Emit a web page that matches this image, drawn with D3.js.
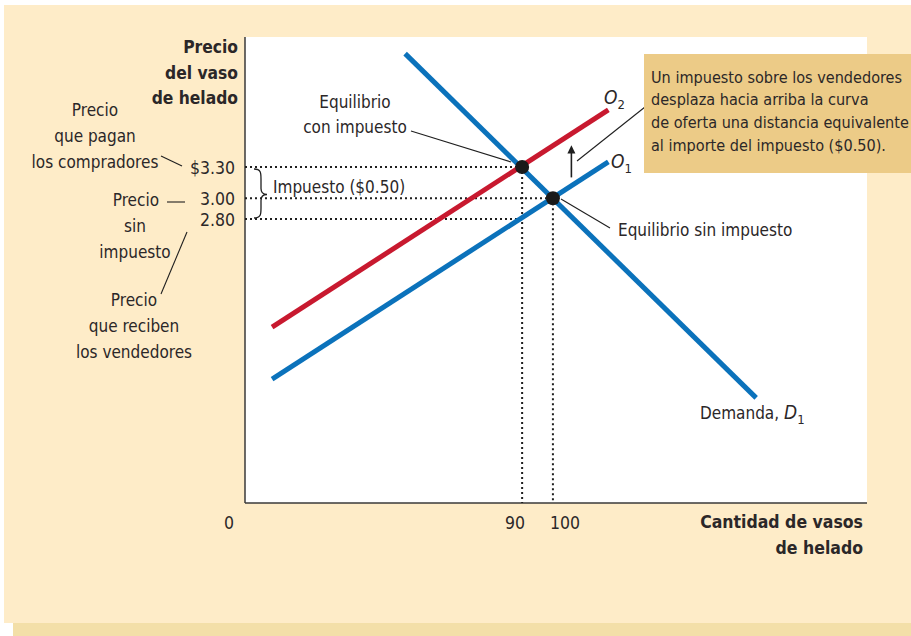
<!DOCTYPE html>
<html>
<head>
<meta charset="utf-8">
<script src="https://cdn.jsdelivr.net/npm/d3@7"></script>
<style>
  body { margin: 0; background: #ffffff; }
  svg text { font-family: "Liberation Sans Narrow", "DejaVu Sans Condensed", Roboto, sans-serif; fill: #2b2728; }
</style>
</head>
<body>
<div id="chart"></div>
<script>
// curve end points (quantity, price)
const demand = [{q: 52, p: 4.39}, {q: 166, p: 1.08}];
const supply1 = [{q: 8.8, p: 1.26}, {q: 118, p: 3.35}];
const supply2 = [{q: 8.8, p: 1.76}, {q: 118, p: 3.85}];
const equilibria = [{q: 90, p: 3.30}, {q: 100, p: 3.00}];

const priceTicks = [3.30, 3.00, 2.80];
const priceLabels = ["$3.30", "3.00", "2.80"];
const qtyTicks = [0, 90, 100];
const qtyLabels = ["0", "90", "100"];

const width = 911;
const height = 636;

const svg = d3.select("#chart")
  .append("svg")
    .attr("width", width)
    .attr("height", height);

// background panel
svg.append("rect").attr("x", 13).attr("y", 623).attr("width", 898).attr("height", 13).attr("fill", "#f3dfa8");
svg.append("rect").attr("x", 4).attr("y", 5).attr("width", 907).attr("height", 618).attr("fill", "#feecc8");

const x = d3.scaleLinear().domain([0, 202]).range([245, 867]);
const y = d3.scaleLinear().domain([2.8, 3.3]).range([219, 167]);
const plotTop = 37, plotBottom = 503;

// plot area
svg.append("rect")
  .attr("x", x(0)).attr("y", plotTop)
  .attr("width", x(202) - x(0)).attr("height", plotBottom - plotTop)
  .attr("fill", "#ffffff");

const axes = svg.append("g").attr("stroke", "#3a3a3a").attr("stroke-width", 1.5);
axes.append("line").attr("x1", x(0)).attr("x2", x(0)).attr("y1", plotTop).attr("y2", plotBottom);
axes.append("line").attr("x1", x(0)).attr("x2", x(202)).attr("y1", plotBottom).attr("y2", plotBottom);

// dotted guide lines
const dots = svg.append("g")
  .attr("stroke", "#1f1f1f")
  .attr("stroke-width", 2)
  .attr("stroke-dasharray", "2,3");
// horizontal: 3.30 and 2.80 to q=90, 3.00 to q=100
[[3.30, 90], [3.00, 100], [2.80, 90]].forEach(function(d) {
  dots.append("line")
    .attr("x1", x(0)).attr("x2", x(d[1]))
    .attr("y1", y(d[0])).attr("y2", y(d[0]));
});
equilibria.forEach(function(d) {
  dots.append("line")
    .attr("x1", x(d.q)).attr("x2", x(d.q))
    .attr("y1", y(d.p)).attr("y2", plotBottom);
});

// curves
const line = d3.line().x(d => x(d.q)).y(d => y(d.p));
svg.append("path").datum(supply2).attr("d", line)
  .attr("stroke", "#c8192f").attr("stroke-width", 5).attr("fill", "none");
svg.append("path").datum(supply1).attr("d", line)
  .attr("stroke", "#0b72bb").attr("stroke-width", 5).attr("fill", "none");
svg.append("path").datum(demand).attr("d", line)
  .attr("stroke", "#0b72bb").attr("stroke-width", 5).attr("fill", "none");

// equilibrium points
svg.selectAll(".eq")
  .data(equilibria)
  .enter()
  .append("circle")
    .attr("class", "eq")
    .attr("cx", d => x(d.q))
    .attr("cy", d => y(d.p))
    .attr("r", 7)
    .attr("fill", "#1a1a1a");

// tick labels
svg.selectAll(".ptick")
  .data(priceTicks)
  .enter()
  .append("text")
    .attr("class", "ptick")
    .attr("x", x(0) - 10)
    .attr("y", d => y(d) + 1)
    .attr("dy", "0.35em")
    .attr("text-anchor", "end")
    .attr("font-size", 17.5)
    .text((d, i) => priceLabels[i]);

const qOffset = [-16, -7, 12];
svg.selectAll(".qtick")
  .data(qtyTicks)
  .enter()
  .append("text")
    .attr("class", "qtick")
    .attr("x", (d, i) => x(d) + qOffset[i])
    .attr("y", 523)
    .attr("dy", "0.35em")
    .attr("text-anchor", "middle")
    .attr("font-size", 17.5)
    .text((d, i) => qtyLabels[i]);

// text helper
function label(lines, xPos, yStart, step, anchor, size, weight) {
  lines.forEach(function(t, i) {
    svg.append("text")
      .attr("x", xPos)
      .attr("y", yStart + i * step)
      .attr("dy", "0.35em")
      .attr("text-anchor", anchor)
      .attr("font-size", size)
      .attr("font-weight", weight || "normal")
      .text(t);
  });
}

// axis titles
label(["Precio", "del vaso", "de helado"], 238, 47, 25.5, "end", 17.3, "bold");
label(["Cantidad de vasos", "de helado"], 863, 522, 25.5, "end", 17.5, "bold");

// left notes
label(["Precio", "que pagan", "los compradores"], 95, 110, 26, "middle", 17);
label(["Precio"], 159, 200, 0, "end", 17);
label(["sin", "impuesto"], 135, 226, 26, "middle", 17);
label(["Precio", "que reciben", "los vendedores"], 134, 300, 26, "middle", 17);

// in-plot notes
label(["Equilibrio", "con impuesto"], 355, 102, 25, "middle", 17);
label(["Impuesto ($0.50)"], 273, 187, 0, "start", 17);
label(["Equilibrio sin impuesto"], 618, 230, 0, "start", 17);

const leaders = svg.append("g").attr("stroke", "#1f1f1f").attr("stroke-width", 1.1).attr("fill", "none");
leaders.append("line").attr("x1", 161).attr("y1", 156).attr("x2", 182).attr("y2", 166);
leaders.append("line").attr("x1", 167).attr("y1", 202).attr("x2", 185).attr("y2", 202);
leaders.append("line").attr("x1", 187).attr("y1", 232).attr("x2", 161).attr("y2", 294);
leaders.append("line").attr("x1", 411).attr("y1", 131).attr("x2", 511).attr("y2", 162);
leaders.append("line").attr("x1", 561).attr("y1", 199).attr("x2", 610).attr("y2", 228);
leaders.append("line").attr("x1", 577).attr("y1", 161).attr("x2", 645).attr("y2", 107);

// brace for the tax
const yTop = y(3.30) + 2, yBot = y(2.80) - 1, yMid = (yTop + yBot) / 2 + 1;
leaders.append("path")
  .attr("stroke-width", 1.3)
  .attr("d", "M254," + yTop + " C261," + yTop + " 261," + (yTop + 4) + " 261," + (yTop + 10) +
    " L261," + (yMid - 6) + " C261," + (yMid - 2) + " 263," + yMid + " 267," + yMid +
    " C263," + yMid + " 261," + (yMid + 2) + " 261," + (yMid + 6) +
    " L261," + (yBot - 10) + " C261," + (yBot - 4) + " 261," + yBot + " 254," + yBot);

// supply shift arrow
const ax = x(106);
svg.append("line")
  .attr("x1", ax).attr("x2", ax)
  .attr("y1", y(3.20)).attr("y2", y(3.44))
  .attr("stroke", "#1f1f1f").attr("stroke-width", 1.6);
svg.append("path")
  .attr("d", "M" + (ax - 4) + "," + (y(3.44) + 1) + " L" + ax + "," + (y(3.51)) + " L" + (ax + 4) + "," + (y(3.44) + 1) + " Z")
  .attr("fill", "#1f1f1f");

// curve labels
function subLabel(main, sub, xPos, yPos, prefix) {
  const t = svg.append("text")
    .attr("x", xPos).attr("y", yPos)
    .attr("dy", "0.35em")
    .attr("font-size", 17);
  if (prefix) t.append("tspan").text(prefix);
  t.append("tspan").attr("font-style", "italic").attr("font-size", 19).text(main);
  t.append("tspan").attr("font-size", 13).attr("dy", 5).text(sub);
}
subLabel("O", "2", 604, 98);
subLabel("O", "1", 611, 162);
subLabel("D", "1", 700, 413, "Demanda, ");

// note box
svg.append("rect")
  .attr("x", 644).attr("y", 54)
  .attr("width", 280).attr("height", 119)
  .attr("fill", "#eccb87");
label(["Un impuesto sobre los vendedores", "desplaza hacia arriba la curva",
  "de oferta una distancia equivalente", "al importe del impuesto ($0.50)."], 651, 77, 22.7, "start", 16.1);
</script>
</body>
</html>
